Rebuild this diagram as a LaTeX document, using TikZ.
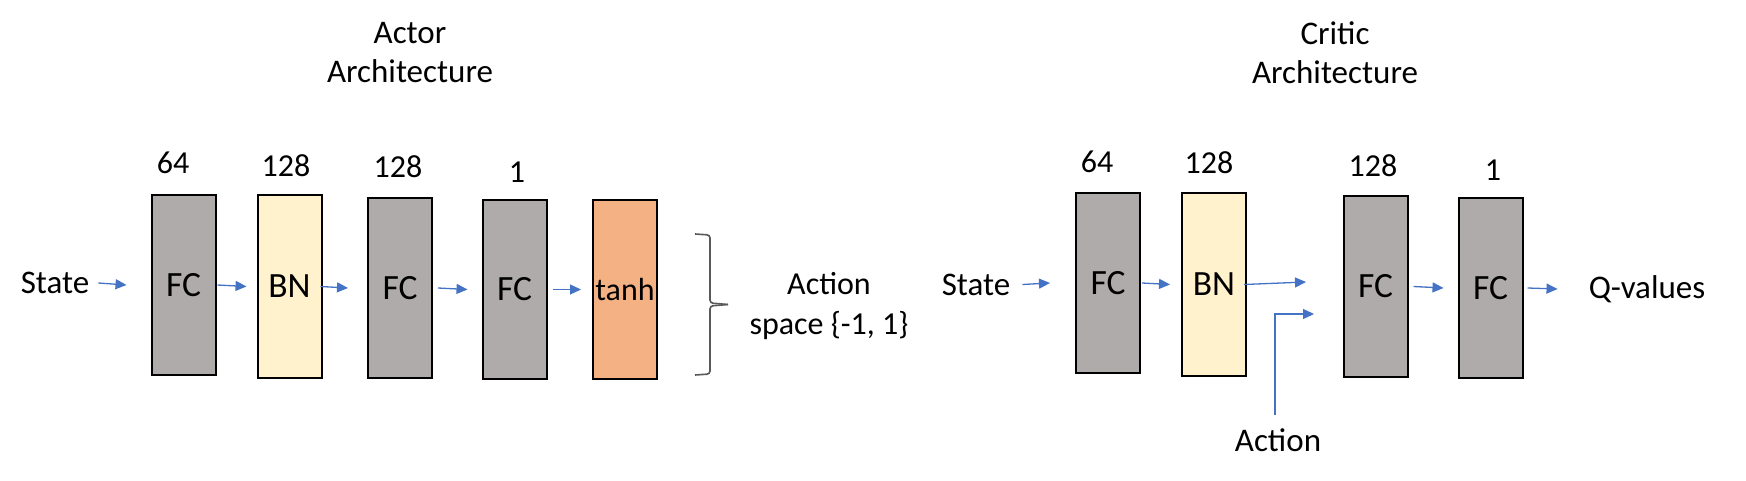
\documentclass[tikz,border=0pt]{standalone}
\usepackage{fontspec}
\setmainfont{Carlito}
\usetikzlibrary{arrows.meta}
\definecolor{fcgrey}{HTML}{AFABAB}
\definecolor{bnyellow}{HTML}{FFF2CC}
\definecolor{tanhorange}{HTML}{F4B183}
\definecolor{arrblue}{HTML}{4472C4}
\definecolor{bracegrey}{HTML}{595959}
\tikzset{
  layer/.style={draw=black, line width=2pt, inner sep=0pt, minimum width=64pt, minimum height=180pt},
  fcbox/.style={layer, fill=fcgrey, font=\fontsize{35.5}{42}\selectfont},
  bnbox/.style={layer, fill=bnyellow, font=\fontsize{35.5}{42}\selectfont},
  tanhbox/.style={layer, fill=tanhorange, font=\fontsize{32}{38}\selectfont},
  numlbl/.style={inner sep=0pt, font=\fontsize{32}{38}\selectfont},
  txtlbl/.style={inner sep=0pt, font=\fontsize{33}{39}\selectfont},
  title/.style={inner sep=0pt, align=center, font=\fontsize{33}{39}\selectfont},
  arr/.style={draw=arrblue, line width=1.3pt, -{Triangle[length=11pt,width=10pt]}},
  bracestyle/.style={draw=bracegrey, line width=1.6pt, rounded corners=3pt}
}
\begin{document}
\begin{tikzpicture}[x=1pt, y=-1pt]
\useasboundingbox (0,0) rectangle (1746,481);

% ---------- Actor ----------
\node[title] (actortitle) at (410,53) {Actor\\Architecture};

\node[txtlbl] (state1) at (55,283) {State};
\node[fcbox, minimum height=180pt] (fc1) at (183.5,285) {FC};
\node[bnbox, minimum height=183pt] (bn1) at (289.5,286.5) {BN};
\node[fcbox, minimum height=180pt] (fc2) at (400,288) {FC};
\node[fcbox, minimum height=179pt] (fc3) at (514.5,289.5) {FC};
\node[tanhbox, minimum height=179pt] (tanh) at (625,289.5) {tanh};

\node[numlbl] (n1) at (173,163) {64};
\node[numlbl] (n2) at (286,166) {128};
\node[numlbl] (n3) at (398,167) {128};
\node[numlbl] (n4) at (517,172) {1};

\draw[arr] ([xshift=9pt]state1.east) -- ([xshift=-24pt]fc1.west);
\draw[arr] ([xshift=1pt]fc1.east) -- ([xshift=-10pt]bn1.west);
\draw[arr] ([xshift=-2pt]bn1.east) -- ([xshift=-19pt]fc2.west);
\draw[arr] ([xshift=5pt]fc2.east) -- ([xshift=-14pt]fc3.west);
\draw[arr] ([xshift=5pt]fc3.east) -- ([xshift=-11pt]tanh.west);

\coordinate (bracetip) at (728,304.5);
\draw[bracestyle] (695,234) -- (710,235) -- (710,303) -- (bracetip);
\draw[bracestyle] (bracetip) -- (710,306) -- (710,374) -- (695,375);
\node[txtlbl, align=center, font=\fontsize{32}{40}\selectfont] (actspace) at (829,306) {Action\\space \{-1, 1\}};

% ---------- Critic ----------
\node[title] (critictitle) at (1335,53) {Critic\\Architecture};

\node[txtlbl] (state2) at (976,284.5) {State};
\node[fcbox, minimum height=180pt] (cfc1) at (1108,283) {FC};
\node[bnbox, minimum height=183pt] (cbn) at (1214,284.5) {BN};
\node[fcbox, minimum height=181pt] (cfc2) at (1375.5,286.5) {FC};
\node[fcbox, minimum height=180pt] (cfc3) at (1490.5,288) {FC};
\node[txtlbl] (qval) at (1647,289) {Q-values};
\node[txtlbl] (action2) at (1278,440.5) {Action};

\node[numlbl] (c1) at (1097,162) {64};
\node[numlbl] (c2) at (1209,163) {128};
\node[numlbl] (c3) at (1373,166) {128};
\node[numlbl] (c4) at (1493,170) {1};

\coordinate (merge1) at (1306,282);
\coordinate (merge2) at (1314,314);

\draw[arr] ([xshift=12pt]state2.east) -- ([xshift=-25pt]cfc1.west);
\draw[arr] ([xshift=1pt]cfc1.east) -- ([xshift=-11pt]cbn.west);
\draw[arr] ([xshift=-3pt]cbn.east) -- (merge1);
\draw[arr, line width=1.1pt] ([xshift=-3pt,yshift=14pt]action2.north) |- (merge2);
\draw[arr] ([xshift=5pt]cfc2.east) -- ([xshift=-14pt]cfc3.west);
\draw[arr] ([xshift=4pt]cfc3.east) -- ([xshift=-31pt]qval.west);
\end{tikzpicture}
\end{document}
